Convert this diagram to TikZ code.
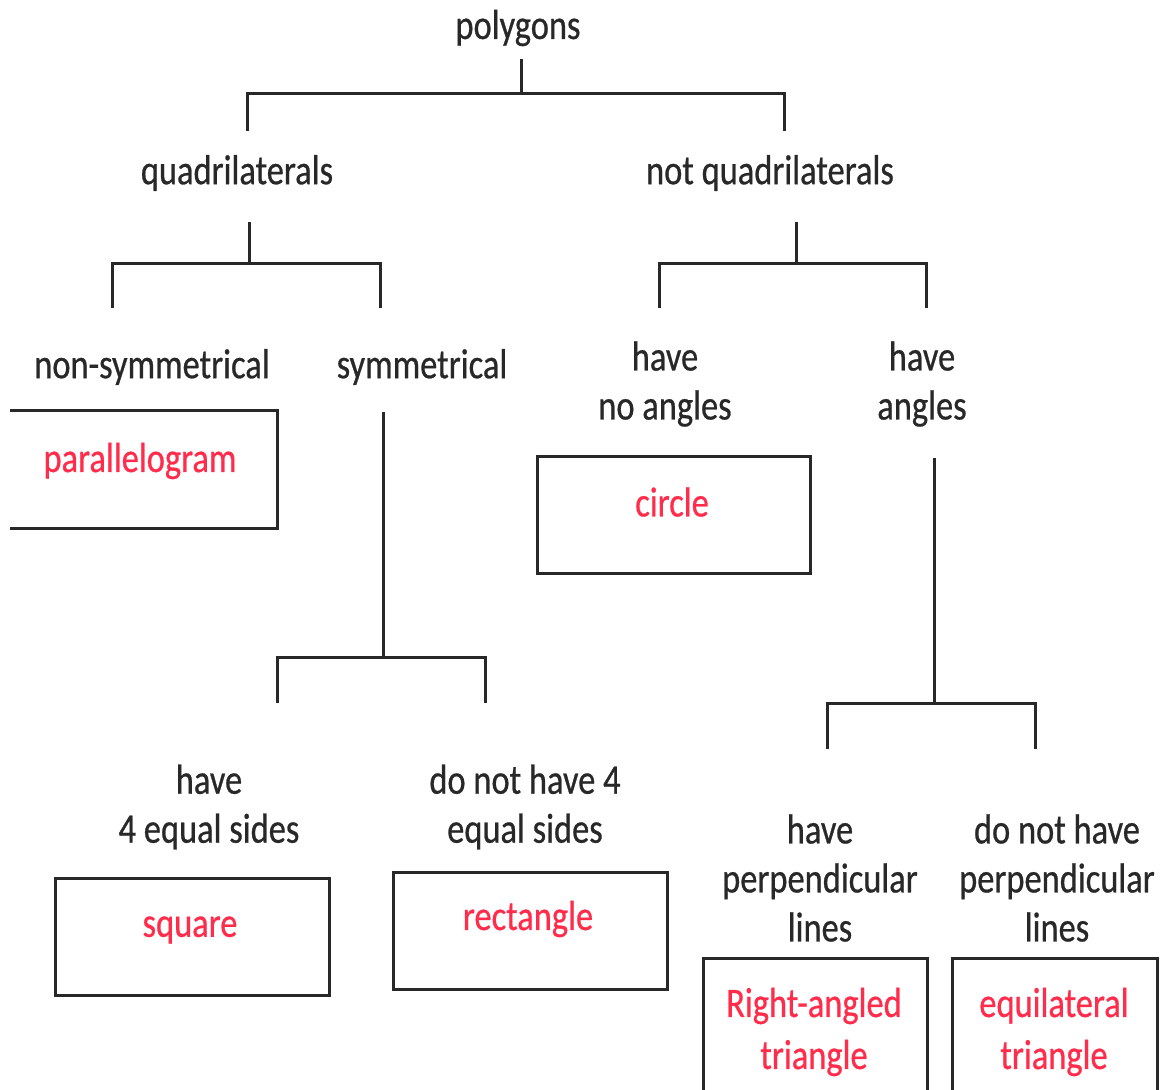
\documentclass[tikz,border=0pt]{standalone}
\usepackage{fontspec}
\setmainfont{Carlito}[FakeStretch=0.82, FakeBold=0.6]
\definecolor{answerred}{RGB}{255,45,75}
\definecolor{inkgray}{RGB}{40,40,40}

\begin{document}
\begin{tikzpicture}[x=1pt, y=-1pt,
		every node/.style={font=\fontsize{42}{49}\selectfont, text=inkgray, align=center, inner sep=0pt},
		answer/.style={text=answerred},
		resultbox/.style={draw=inkgray, line width=3pt, minimum height=117pt},
		fork/.style={draw=inkgray, line width=3pt}]
	\useasboundingbox[fill=white] (0,0) rectangle (1160,1090);
	% labels
	\node (poly) at (518,28) {polygons};
	\node (quad) at (237,173) {quadrilaterals};
	\node (notquad) at (770,173) {not quadrilaterals};
	\node (nonsym) at (152,367) {non-symmetrical};
	\node (sym) at (422,367) {symmetrical};
	\node (noang) at (665,384) {have\\no angles};
	\node (ang) at (922,384) {have\\angles};
	\node (four) at (209,807) {have\\4 equal sides};
	\node (notfour) at (525,807) {do not have 4\\equal sides};
	\node (perp) at (820,878) {have\\perpendicular\\lines};
	\node (notperp) at (1057,878) {do not have\\perpendicular\\lines};
	% result boxes
	\node[minimum width=267pt, minimum height=117pt] (parabox) at (143.5,469.5) {};
	\draw[fork] (parabox.north west) -- (parabox.north east) -- (parabox.south east) -- (parabox.south west);
	\node[resultbox, minimum width=273pt] (circbox) at (673.5,514.5) {};
	\node[resultbox, minimum width=274pt] (sqbox) at (192,936.5) {};
	\node[resultbox, minimum width=274pt] (rectbox) at (530,930.5) {};
	\node[resultbox, minimum width=224pt, minimum height=144pt] (rtbox) at (815,1030) {};
	\node[resultbox, minimum width=205pt, minimum height=144pt] (eqbox) at (1054.5,1030) {};
	\node[answer] (para) at (140,461) {parallelogram};
	\node[answer] (circ) at (672,502) {circle};
	\node[answer] (sq) at (190,930) {square};
	\node[answer] (rect) at (528,919) {rectangle};
	\node[answer] (rt) at (814,1032) {Right-angled\\[3pt]triangle};
	\node[answer] (eq) at (1054,1032) {equilateral\\[3pt]triangle};
	% forks
	\coordinate (polyT) at (521,59);   \coordinate (polyJ) at (521,93);
	\coordinate (polyL) at (247,131);  \coordinate (polyR) at (784,131);
	\coordinate (quadT) at (249,222);  \coordinate (quadJ) at (249,263);
	\coordinate (quadL) at (112,308);  \coordinate (quadR) at (380,308);
	\coordinate (nqT) at (796,222);    \coordinate (nqJ) at (796,263);
	\coordinate (nqL) at (659,308);    \coordinate (nqR) at (926,308);
	\coordinate (symT) at (383,412);   \coordinate (symJ) at (383,657);
	\coordinate (symL) at (277,703);   \coordinate (symR) at (485,703);
	\coordinate (angT) at (934,458);   \coordinate (angJ) at (934,703);
	\coordinate (angL) at (827,749);   \coordinate (angR) at (1035,749);
	\foreach \f in {poly, quad, nq, sym, ang}
		\draw[fork] (\f T) -- (\f J) (\f L) |- (\f J) -| (\f R);
\end{tikzpicture}
\end{document}
